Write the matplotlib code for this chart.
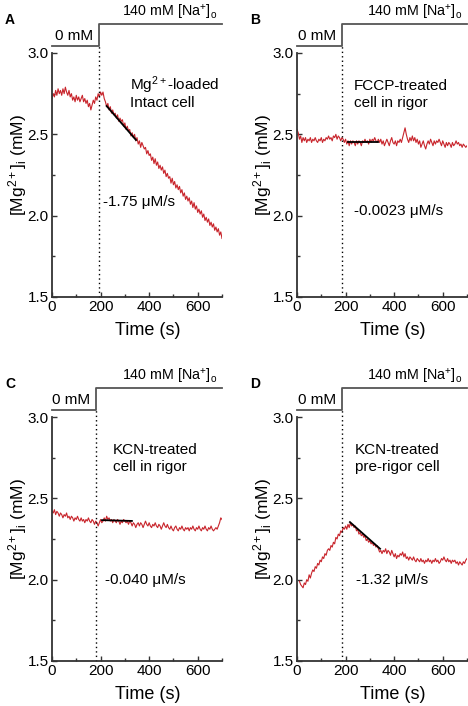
import numpy as np
import matplotlib

matplotlib.use("Agg")
import matplotlib.pyplot as plt
from matplotlib.ticker import MultipleLocator

plt.rcParams["font.family"] = ["Liberation Sans", "DejaVu Sans"]
plt.rcParams["mathtext.fontset"] = "custom"
plt.rcParams["mathtext.rm"] = "Liberation Sans"
plt.rcParams["mathtext.it"] = "Liberation Sans:italic"
plt.rcParams["mathtext.bf"] = "Liberation Sans:bold"

# [Mg2+]i traces (mM), sampled every 5 s
MG_A = [
    2.72, 2.75, 2.73, 2.77, 2.74, 2.78, 2.75, 2.77, 2.74, 2.78,
    2.75, 2.79, 2.76, 2.74, 2.77, 2.73, 2.75, 2.71, 2.73, 2.70,
    2.74, 2.71, 2.73, 2.70, 2.72, 2.74, 2.70, 2.72, 2.69, 2.71,
    2.67, 2.69, 2.65, 2.68, 2.71, 2.69, 2.73, 2.71, 2.75, 2.73,
    2.76, 2.74, 2.76, 2.72,
    2.70, 2.67, 2.69, 2.65, 2.67, 2.63, 2.65, 2.62, 2.63, 2.60,
    2.62, 2.58, 2.60, 2.58, 2.59, 2.55, 2.57, 2.53, 2.55, 2.52,
    2.53, 2.49, 2.51, 2.48, 2.50, 2.46, 2.48, 2.44, 2.46, 2.42,
    2.45, 2.43, 2.41, 2.42, 2.38, 2.40, 2.37, 2.38, 2.34, 2.36,
    2.32, 2.35, 2.31, 2.33, 2.29, 2.31, 2.28, 2.30, 2.26, 2.28,
    2.24, 2.26, 2.23, 2.24, 2.20, 2.23, 2.19, 2.21, 2.17, 2.19,
    2.16, 2.18, 2.14, 2.16, 2.12, 2.14, 2.10, 2.12, 2.09, 2.11,
    2.07, 2.09, 2.05, 2.08, 2.04, 2.06, 2.02, 2.04, 2.01, 2.03,
    1.99, 2.01, 1.97, 1.99, 1.96, 1.98, 1.94, 1.96, 1.93, 1.95,
    1.91, 1.93, 1.90, 1.92, 1.88, 1.90, 1.86,
]
MG_B = [
    2.53, 2.51, 2.47, 2.49, 2.45, 2.48, 2.46, 2.48, 2.45, 2.47,
    2.46, 2.48, 2.45, 2.47, 2.46, 2.48, 2.46, 2.45, 2.47, 2.46,
    2.48, 2.45, 2.47, 2.46, 2.48, 2.47, 2.49, 2.47, 2.48, 2.46,
    2.49, 2.48, 2.50, 2.47, 2.49, 2.48, 2.46, 2.48, 2.47, 2.45,
    2.47, 2.44, 2.46, 2.43, 2.46, 2.44, 2.46, 2.45, 2.43, 2.46,
    2.44, 2.46, 2.45, 2.43, 2.46, 2.45, 2.47, 2.45, 2.46, 2.44,
    2.47, 2.45, 2.47, 2.46, 2.48, 2.46, 2.45, 2.47, 2.45, 2.47,
    2.44, 2.46, 2.43, 2.45, 2.47, 2.45, 2.43, 2.46, 2.48, 2.45,
    2.44, 2.46, 2.43, 2.46, 2.45, 2.47, 2.45, 2.48, 2.51, 2.54,
    2.50, 2.47, 2.45, 2.48, 2.46, 2.49, 2.46, 2.48, 2.45, 2.47,
    2.44, 2.46, 2.42, 2.44, 2.46, 2.43, 2.41, 2.44, 2.46, 2.44,
    2.47, 2.45, 2.43, 2.46, 2.44, 2.46, 2.45, 2.47, 2.45, 2.43,
    2.46, 2.44, 2.42, 2.45, 2.43, 2.45, 2.44, 2.42, 2.45, 2.43,
    2.44, 2.46, 2.44, 2.45, 2.43, 2.44, 2.42, 2.44, 2.43, 2.42,
    2.43,
]
MG_C = [
    2.42, 2.41, 2.43, 2.40, 2.42, 2.41, 2.39, 2.41, 2.40, 2.38,
    2.40, 2.39, 2.41, 2.38, 2.39, 2.37, 2.39, 2.38, 2.36, 2.38,
    2.37, 2.39, 2.37, 2.36, 2.38, 2.36, 2.37, 2.35, 2.37, 2.36,
    2.38, 2.36, 2.35, 2.37, 2.36, 2.34, 2.36, 2.35, 2.33, 2.35,
    2.37, 2.35, 2.36, 2.38, 2.36, 2.39, 2.37, 2.38, 2.36, 2.37,
    2.35, 2.37, 2.36, 2.35, 2.37, 2.36, 2.34, 2.36, 2.35, 2.37,
    2.36, 2.35, 2.36, 2.34, 2.36, 2.35, 2.33, 2.35, 2.34, 2.32,
    2.34, 2.35, 2.33, 2.35, 2.34, 2.32, 2.34, 2.36, 2.34, 2.33,
    2.35, 2.33, 2.32, 2.34, 2.33, 2.35, 2.33, 2.32, 2.34, 2.33,
    2.31, 2.33, 2.35, 2.33, 2.32, 2.34, 2.32, 2.31, 2.33, 2.31,
    2.30, 2.32, 2.33, 2.31, 2.30, 2.32, 2.31, 2.33, 2.31, 2.30,
    2.32, 2.31, 2.32, 2.30, 2.32, 2.31, 2.33, 2.31, 2.30, 2.32,
    2.31, 2.33, 2.31, 2.30, 2.32, 2.31, 2.33, 2.31, 2.30, 2.32,
    2.31, 2.33, 2.31, 2.30, 2.31, 2.32, 2.31, 2.33, 2.35, 2.38,
    2.37,
]
# panel D trace starts at 10 s
MG_D = [
    1.99, 1.97, 1.96, 1.95, 1.98, 1.97, 2.00, 1.99, 2.03, 2.01,
    2.04, 2.06, 2.05, 2.08, 2.07, 2.10, 2.09, 2.12, 2.11, 2.14,
    2.13, 2.16, 2.15, 2.18, 2.19, 2.18, 2.21, 2.20, 2.23, 2.22,
    2.26, 2.25, 2.28, 2.27, 2.30, 2.29, 2.32, 2.31, 2.33, 2.31,
    2.34, 2.32, 2.35, 2.33, 2.34, 2.32, 2.33, 2.30, 2.31, 2.28,
    2.29, 2.27, 2.28, 2.26, 2.27, 2.24, 2.25, 2.23, 2.24, 2.22,
    2.23, 2.21, 2.22, 2.20, 2.21, 2.19, 2.17, 2.18, 2.16, 2.18,
    2.17, 2.19, 2.16, 2.18, 2.17, 2.15, 2.18, 2.16, 2.14, 2.16,
    2.13, 2.15, 2.14, 2.16, 2.15, 2.17, 2.14, 2.16, 2.13, 2.14,
    2.12, 2.14, 2.13, 2.12, 2.14, 2.12, 2.11, 2.13, 2.12, 2.11,
    2.13, 2.11, 2.12, 2.10, 2.12, 2.11, 2.13, 2.11, 2.12, 2.10,
    2.12, 2.11, 2.13, 2.11, 2.12, 2.10, 2.11, 2.13, 2.12, 2.14,
    2.12, 2.11, 2.13, 2.11, 2.12, 2.10, 2.12, 2.11, 2.12, 2.10,
    2.11, 2.09, 2.11, 2.10, 2.09, 2.11, 2.10, 2.12, 2.13,
]
T0 = {"A": 0, "B": 0, "C": 0, "D": 10}
DT = 5

# linear fits (time s, mM)
FIT_T = {"A": [225, 346], "B": [212, 335], "C": [206, 329], "D": [218, 342]}
FIT_MG = {"A": [2.674, 2.465], "B": [2.450, 2.450], "C": [2.366, 2.361], "D": [2.354, 2.190]}
RATES = {"A": "-1.75 μM/s", "B": "-0.0023 μM/s", "C": "-0.040 μM/s", "D": "-1.32 μM/s"}
NOTES = {
    "A": ["Mg$^{2+}$-loaded", "Intact cell"],
    "B": ["FCCP-treated", "cell in rigor"],
    "C": ["KCN-treated", "cell in rigor"],
    "D": ["KCN-treated", "pre-rigor cell"],
}
# time when [Na+]o switched 0 -> 140 mM
SWITCH_T = {"A": 192, "B": 184, "C": 180, "D": 184}

W, H = 468, 706
AX_W, AX_H = 170, 244
AX_POS = {"A": (52, 297), "B": (297, 297), "C": (52, 661), "D": (297, 661)}
NOTE_X = {"A": 322, "B": 235, "C": 251, "D": 239}
RATE_XY = {"A": (210, 2.086), "B": (235, 2.03), "C": (218, 2.0), "D": (242, 1.995)}
RED = "#c8242b"
AXIS_C = "#333333"
BAR_C = "#555555"
LOW, HIGH = 3.04, 3.18
FS = 11


def draw_panel(fig, key, mg):
    x0, y0 = AX_POS[key]
    ax = fig.add_axes([x0 / W, 1 - y0 / H, AX_W / W, AX_H / H])
    t = T0[key] + DT * np.arange(len(mg))
    ax.plot(t, mg, color=RED, lw=0.8)
    ax.plot(FIT_T[key], FIT_MG[key], color="black", lw=1.3)

    ax.set_xlim(0, 700)
    ax.set_ylim(1.5, 3.0)
    for side in ("top", "right"):
        ax.spines[side].set_visible(False)
    for side in ("left", "bottom"):
        ax.spines[side].set_color(AXIS_C)
        ax.spines[side].set_linewidth(1.3)
    ax.xaxis.set_major_locator(MultipleLocator(200))
    ax.xaxis.set_minor_locator(MultipleLocator(100))
    ax.yaxis.set_major_locator(MultipleLocator(0.5))
    ax.yaxis.set_minor_locator(MultipleLocator(0.25))
    ax.yaxis.set_major_formatter(matplotlib.ticker.FormatStrFormatter("%.1f"))
    ax.tick_params(which="both", direction="in", color=AXIS_C, width=1.0, labelsize=11, pad=2.5)
    ax.tick_params(which="major", length=3.5)
    ax.tick_params(which="minor", length=2.5)

    ax.set_xlabel("Time (s)", fontsize=13, va="center")
    ax.xaxis.set_label_coords(0.565, -0.137)
    ax.set_ylabel(r"[Mg$^{2+}$]$_{\rm i}$ (mM)", fontsize=12.5, va="center")
    ax.yaxis.set_label_coords(-0.2, 0.54)

    st = SWITCH_T[key]
    ax.plot([st, st], [1.5, LOW], color="black", lw=1.0, ls=(0, (1, 2.2)), clip_on=False)
    ax.plot([0, st, st, 700], [LOW, LOW, HIGH, HIGH], color=BAR_C, lw=1.3, clip_on=False)
    ax.text(st - 102, 3.106, "0 mM", ha="center", va="center", fontsize=FS)
    ax.text(288, 3.25, r"140 mM [Na$^{+}$]$_{\rm o}$", ha="left", va="center", fontsize=10.3)

    nx = NOTE_X[key]
    ax.text(nx, 2.80, NOTES[key][0], ha="left", va="center", fontsize=FS)
    ax.text(nx, 2.69, NOTES[key][1], ha="left", va="center", fontsize=FS)
    rx, ry = RATE_XY[key]
    ax.text(rx, ry, RATES[key], ha="left", va="center", fontsize=FS)

    fig.text((x0 - 42) / W, 1 - (y0 - 277) / H, key, fontsize=10, fontweight="bold",
             ha="center", va="center")
    return ax


def main() -> None:
    fig = plt.figure(figsize=(W / 100, H / 100), dpi=100)
    for key, mg in (("A", MG_A), ("B", MG_B), ("C", MG_C), ("D", MG_D)):
        draw_panel(fig, key, mg)
    fig.savefig("out.png", dpi=100)
    plt.close(fig)


if __name__ == "__main__":
    main()
